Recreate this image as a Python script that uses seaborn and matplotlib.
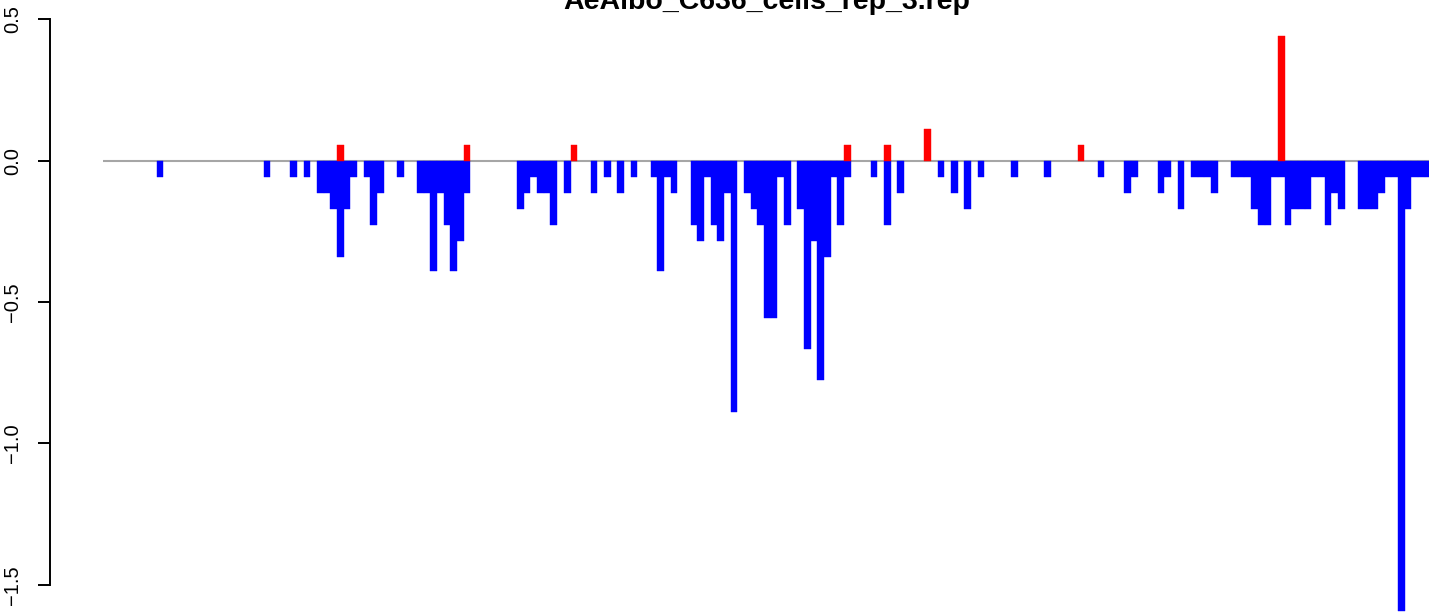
import numpy as np
import pandas as pd
import matplotlib
matplotlib.use("Agg")
import matplotlib.pyplot as plt
import seaborn as sns

title = "AeAlbo_C636_cells_rep_3.rep"
n_bars = 200

# negative (blue) bars: position -> value
neg_idx = [8, 24, 28, 30, 32, 33, 34, 35, 36, 37, 39, 40, 41, 44,
           47, 48, 49, 50, 51, 52, 53, 54, 62, 63, 64, 65, 66, 67, 69,
           73, 75, 77, 79, 82, 83, 84, 85, 88, 89, 90, 91, 92, 93, 94,
           96, 97, 98, 99, 100, 101, 102, 104, 105, 106, 107, 108, 109,
           110, 111, 115, 117, 119, 125, 127, 129, 131, 136, 141, 149,
           153, 154, 158, 159, 161, 163, 164, 165, 166, 169, 170, 171,
           172, 173, 174, 175, 176, 177, 178, 179, 180, 181, 182, 183,
           184, 185, 188, 189, 190, 191, 192, 193, 194, 195, 196, 197, 198]
neg_val = [-0.057, -0.057, -0.057, -0.057, -0.113, -0.113, -0.170, -0.339,
           -0.170, -0.057, -0.057, -0.226, -0.113, -0.057,
           -0.113, -0.113, -0.390, -0.113, -0.226, -0.390, -0.283, -0.113,
           -0.170, -0.113, -0.057, -0.113, -0.113, -0.226, -0.113,
           -0.113, -0.057, -0.113, -0.057, -0.057, -0.390, -0.057, -0.113,
           -0.226, -0.283, -0.057, -0.226, -0.283, -0.113, -0.888,
           -0.113, -0.170, -0.226, -0.558, -0.558, -0.057, -0.226,
           -0.170, -0.666, -0.283, -0.775, -0.339, -0.057,
           -0.226, -0.057, -0.057, -0.226, -0.113, -0.057, -0.113, -0.170,
           -0.057, -0.057, -0.057, -0.057,
           -0.113, -0.057, -0.113, -0.057, -0.170, -0.057, -0.057, -0.057,
           -0.113, -0.057, -0.057, -0.057,
           -0.170, -0.226, -0.226, -0.057, -0.057, -0.226, -0.170, -0.170,
           -0.170, -0.057, -0.057, -0.226,
           -0.113, -0.170, -0.170, -0.170, -0.170, -0.113, -0.057, -0.057,
           -1.592, -0.170, -0.057, -0.057, -0.057]

# positive (red) bars
pos_idx = [35, 54, 70, 111, 117, 123, 146, 176]
pos_val = [0.057, 0.057, 0.057, 0.057, 0.057, 0.113, 0.057, 0.441]

y_ticks = [-1.5, -1.0, -0.5, 0.0, 0.5]

neg = np.zeros(n_bars)
neg[neg_idx] = neg_val
pos = np.zeros(n_bars)
pos[pos_idx] = pos_val

df = pd.DataFrame({
    "pos": np.concatenate([np.arange(n_bars), np.arange(n_bars)]),
    "value": np.concatenate([neg, pos]),
    "sign": ["down"] * n_bars + ["up"] * n_bars,
})

plt.rcParams["font.family"] = ["Liberation Sans", "DejaVu Sans"]

fig = plt.figure(figsize=(14.29, 6.12), dpi=100)
ax = fig.add_axes([50 / 1429, 0, 1 - 50 / 1429, 1])

ax.hlines(0, -0.5, n_bars - 0.5, color="#A6A6A6", lw=1.5, zorder=0)
sns.barplot(data=df, x="pos", y="value", hue="sign",
            palette={"down": "#0000FF", "up": "#FF0000"},
            dodge=False, width=1, saturation=1, errorbar=None,
            native_scale=True, legend=False, linewidth=0, ax=ax)
# hide empty bars, close the seams between neighbours
for p in ax.patches:
    if p.get_height() == 0:
        p.set_visible(False)
    else:
        p.set_edgecolor(p.get_facecolor())
        p.set_linewidth(0.3)

ax.set_xlim(-8.5, 198.15)
ax.set_ylim(-1.5964, 0.5685)
ax.set_xticks([])
ax.set_yticks(y_ticks)
ax.set_yticklabels(["\u22121.5", "\u22121.0", "\u22120.5", "0.0", "0.5"])
ax.tick_params(axis="y", length=8.6, width=1.4, pad=11.5, labelsize=14.5,
               labelrotation=90)
for lab in ax.get_yticklabels():
    lab.set_verticalalignment("center")
ax.set_xlabel("")
ax.set_ylabel("")
for s in ["top", "right", "bottom"]:
    ax.spines[s].set_visible(False)
ax.spines["left"].set_bounds(-1.5, 0.5)
ax.spines["left"].set_linewidth(1.4)
ax.patch.set_visible(False)

# title is cut at the top edge, as in the source image
fig.text(766.7 / 1429, 1 - 9 / 612, title, ha="center", va="baseline",
         fontsize=20.5, fontweight="bold")

fig.savefig("out.png", dpi=100)
